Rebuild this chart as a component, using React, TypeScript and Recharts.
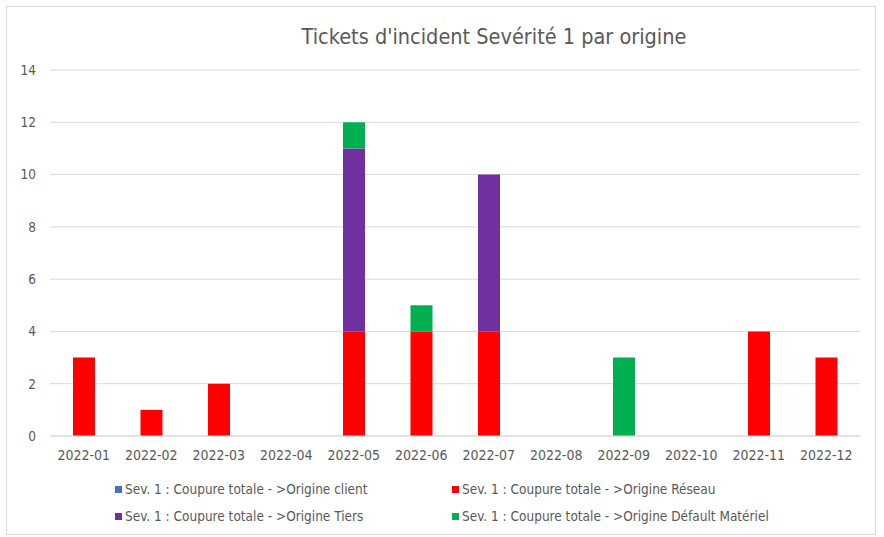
import { BarChart, Bar, XAxis, YAxis, CartesianGrid } from 'recharts';

const months = [
    '2022-01', '2022-02', '2022-03', '2022-04', '2022-05', '2022-06',
    '2022-07', '2022-08', '2022-09', '2022-10', '2022-11', '2022-12',
];
const origineClient = [0, 0, 0, 0, 0, 0, 0, 0, 0, 0, 0, 0];
const origineReseau = [3, 1, 2, 0, 4, 4, 4, 0, 0, 0, 4, 3];
const origineTiers = [0, 0, 0, 0, 7, 0, 6, 0, 0, 0, 0, 0];
const origineMateriel = [0, 0, 0, 0, 1, 1, 0, 0, 3, 0, 0, 0];
const yTicks = [0, 2, 4, 6, 8, 10, 12, 14];

const series = [
    { key: 'client', name: 'Sev. 1 : Coupure totale - >Origine client', color: '#4472C4' },
    { key: 'reseau', name: 'Sev. 1 : Coupure totale - >Origine Réseau', color: '#FF0000' },
    { key: 'tiers', name: 'Sev. 1 : Coupure totale - >Origine Tiers', color: '#7030A0' },
    { key: 'materiel', name: 'Sev. 1 : Coupure totale - >Origine Défault Matériel', color: '#00B050' },
];

const data = months.map((m, i) => ({
    month: m,
    client: origineClient[i],
    reseau: origineReseau[i],
    tiers: origineTiers[i],
    materiel: origineMateriel[i],
}));

const FONT = '"DejaVu Sans Condensed", "Open Sans", sans-serif';
const TEXT = '#595959';

export default function App() {
    return (
        <div style={{ position: 'absolute', left: 0, top: 0, width: 884, height: 537, background: '#fff', fontFamily: FONT }}>
            <div
                style={{
                    position: 'absolute',
                    left: 6,
                    top: 6,
                    width: 868,
                    height: 527,
                    border: '1px solid #d9d9d9',
                }}
            />
            <div
                style={{
                    position: 'absolute',
                    left: 0,
                    width: 884,
                    top: 24,
                    textAlign: 'center',
                    paddingLeft: 104,
                    boxSizing: 'border-box',
                    fontSize: 21.5,
                    color: TEXT,
                }}
            >
                Tickets d'incident Sevérité 1 par origine
            </div>
            <div style={{ position: 'absolute', left: 0, top: 0 }}>
                <BarChart
                    width={884}
                    height={537}
                    data={data}
                    margin={{ top: 70, right: 24, left: 0, bottom: 71 }}
                    barSize={22}
                >
                    <CartesianGrid stroke="#d9d9d9" vertical={false} />
                    <XAxis
                        dataKey="month"
                        tickLine={false}
                        axisLine={{ stroke: '#d9d9d9' }}
                        tick={{ fill: TEXT, fontSize: 14, fontFamily: FONT }}
                        tickMargin={8}
                        height={30}
                        interval={0}
                    />
                    <YAxis
                        domain={[0, 14]}
                        ticks={yTicks}
                        tickLine={false}
                        axisLine={false}
                        tick={{ fill: TEXT, fontSize: 13.5, fontFamily: FONT }}
                        width={50}
                        tickMargin={8}
                    />
                    {series.map((s) => (
                        <Bar
                            key={s.key}
                            dataKey={s.key}
                            name={s.name}
                            stackId="a"
                            fill={s.color}
                            isAnimationActive={false}
                        />
                    ))}
                </BarChart>
            </div>
            <div
                style={{
                    position: 'absolute',
                    left: 115,
                    top: 480,
                    display: 'grid',
                    gridTemplateColumns: '337px 380px',
                    rowGap: 9,
                    fontSize: 13.5,
                    color: TEXT,
                }}
            >
                {series.map((s) => (
                    <div key={s.key} style={{ display: 'flex', alignItems: 'center', height: 18, whiteSpace: 'nowrap' }}>
                        <span style={{ width: 7, height: 7, background: s.color, marginRight: 3, display: 'inline-block' }} />
                        {s.name}
                    </div>
                ))}
            </div>
        </div>
    );
}
